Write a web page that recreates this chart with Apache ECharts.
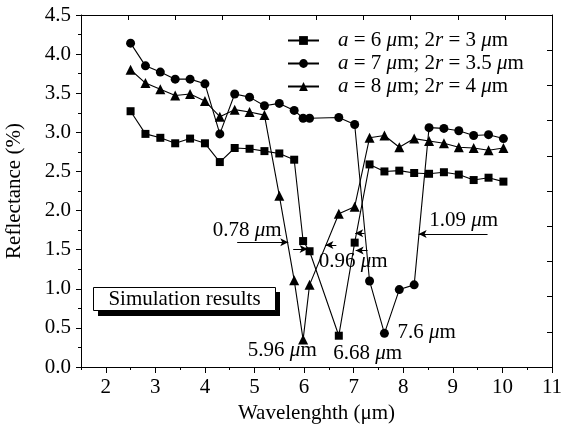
<!DOCTYPE html>
<html><head><meta charset="utf-8">
<script src="https://cdn.jsdelivr.net/npm/echarts@6/dist/echarts.min.js"></script>
<style>html,body{margin:0;padding:0;background:#fff}#c{width:561px;height:432px}</style>
</head><body><div id="c"></div>
<script>
const wavelength = [2.5,2.8,3.1,3.4,3.7,4.0,4.3,4.6,4.9,5.2,5.5,5.8,5.98,6.11,6.7,7.02,7.32,7.62,7.92,8.22,8.52,8.82,9.12,9.42,9.72,10.02];
const refA6 = [3.27,2.98,2.93,2.86,2.92,2.86,2.62,2.80,2.79,2.76,2.73,2.65,1.61,1.48,0.40,1.59,2.59,2.50,2.51,2.48,2.47,2.49,2.46,2.39,2.42,2.37];
const refA7 = [4.14,3.85,3.77,3.68,3.68,3.62,2.98,3.49,3.45,3.34,3.37,3.28,3.18,3.18,3.19,3.10,1.10,0.43,0.99,1.05,3.06,3.05,3.02,2.96,2.97,2.92];
const refA8 = [3.80,3.63,3.55,3.47,3.49,3.40,3.20,3.29,3.26,3.22,2.19,1.11,0.35,1.05,1.96,2.05,2.93,2.96,2.81,2.92,2.89,2.86,2.81,2.80,2.77,2.80];
const aVals = ['6','7','8'];
const rVals = ['3','3.5','4'];
const seriesNames = ['a6','a7','a8'];
const xTickLabels = [2,3,4,5,6,7,8,9,10,11];
const xMinorTicks = [1.5,2.5,3.5,4.5,5.5,6.5,7.5,8.5,9.5,10.5];
// annotation texts [x, y, number]
const annoTexts = [[4.85,1.75,'0.78'],[6.99,1.345,'0.96'],[9.22,1.876,'1.09'],[5.56,0.21,'5.96'],[7.28,0.17,'6.68'],[8.47,0.437,'7.6']];
// arrows [x1, x2(tip), y]
const annoArrows = [[4.65,5.68,1.595],[5.78,6.07,1.51],[6.65,6.43,1.56],[7.22,7.03,1.71],[7.28,7.04,1.49],[9.70,8.31,1.70]];

const FF = 'Liberation Serif';
const chart = echarts.init(document.getElementById('c'), null, {renderer:'canvas'});
const mk = (vals) => wavelength.map((x,i)=>[x, vals[i]]);
const lineStyle = {color:'#000', width:1.1};
const baseSeries = (name, data, symbol, size) => ({
  name, type:'line', data, symbol, symbolSize:size, showAllSymbol:true,
  xAxisIndex:0, yAxisIndex:0,
  lineStyle, itemStyle:{color:'#000', borderWidth:0}, animation:false, z:3
});
const arrowSeries = {
  type:'line', data:[], xAxisIndex:0, yAxisIndex:0, animation:false, silent:true,
  markLine:{
    silent:true, animation:false, symbol:['none','arrow'], symbolSize:[6,8],
    label:{show:false},
    lineStyle:{color:'#000', width:1, type:'solid'},
    data: annoArrows.map(a=>[{coord:[a[0],a[2]]},{coord:[a[1],a[2]]}])
  }
};
const axLine = {show:true, onZero:false, lineStyle:{color:'#000', width:1}};
chart.setOption({
  animation:false,
  backgroundColor:'#fff',
  grid:{left:81, right:9, top:15, bottom:65, containLabel:false, outerBoundsMode:'none'},
  legend:{
    orient:'vertical', left:282, top:25, itemWidth:31, itemHeight:11, itemGap:2,
    data:seriesNames,
    formatter:(name)=>{const i=seriesNames.indexOf(name); return `{sp|}{it|a}{n| = ${aVals[i]} }{it|μ}{n|m; 2}{it|r}{n| = ${rVals[i]} }{it|μ}{n|m}`;},
    textStyle:{fontFamily:FF, fontSize:21, color:'#000',
      rich:{sp:{width:14}, it:{fontStyle:'italic', fontFamily:FF, fontSize:21, color:'#000'}, n:{fontFamily:FF, fontSize:21, color:'#000'}}}
  },
  xAxis:[
    {type:'value', min:1.5, max:11, position:'bottom',
     name:'Wavelenghth (μm)', nameLocation:'middle', nameGap:36,
     nameTextStyle:{fontFamily:FF, fontSize:21, color:'#000'},
     axisLine:axLine, splitLine:{show:false},
     axisTick:{show:true, inside:false, length:6, customValues:xTickLabels, lineStyle:{color:'#000'}},
     axisLabel:{show:true, customValues:xTickLabels, margin:10, fontFamily:FF, fontSize:21, color:'#000'}},
    {type:'value', min:1.5, max:11, position:'bottom',
     axisLine:{show:false, onZero:false}, splitLine:{show:false},
     axisTick:{show:true, inside:false, length:3, customValues:xMinorTicks, lineStyle:{color:'#000'}},
     axisLabel:{show:false, customValues:xMinorTicks}},
    {type:'value', min:0, max:10, interval:1, position:'top',
     axisLine:axLine, splitLine:{show:false},
     axisTick:{show:true, inside:true, length:5, lineStyle:{color:'#000'}},
     axisLabel:{show:false}}
  ],
  yAxis:[
    {type:'value', min:0, max:4.5, interval:0.5, position:'left',
     name:'Reflectance (%)', nameLocation:'middle', nameGap:56, nameRotate:90,
     nameTextStyle:{fontFamily:FF, fontSize:21, color:'#000'},
     axisLine:axLine, splitLine:{show:false},
     axisTick:{show:true, inside:false, length:5, lineStyle:{color:'#000'}},
     minorTick:{show:true, splitNumber:2, length:3, lineStyle:{color:'#000'}},
     axisLabel:{margin:10, fontFamily:FF, fontSize:21, color:'#000', formatter:(v)=>v.toFixed(1)}},
    {type:'value', min:0, max:10, interval:1, position:'right',
     axisLine:axLine, splitLine:{show:false},
     axisTick:{show:true, inside:true, length:5, lineStyle:{color:'#000'}},
     axisLabel:{show:false}}
  ],
  series:[
    baseSeries('a6', mk(refA6), 'rect', 8),
    baseSeries('a7', mk(refA7), 'circle', 9),
    baseSeries('a8', mk(refA8), 'triangle', 10),
    arrowSeries
  ]
});

function drawGraphics(){
  const g = [];
  annoTexts.forEach(t=>{
    const p = chart.convertToPixel({xAxisIndex:0, yAxisIndex:0},[t[0],t[1]]);
    g.push({type:'text', x:p[0], y:p[1], z:10,
      style:{text:`{n|${t[2]} }{it|μ}{n|m}`, align:'center', verticalAlign:'middle',
        rich:{n:{fontFamily:FF, fontSize:21, fill:'#000'}, it:{fontFamily:FF, fontStyle:'italic', fontSize:21, fill:'#000'}}}});
  });
  // Simulation results label box with shadow
  g.push({type:'rect', shape:{x:98, y:292, width:182, height:24}, style:{fill:'#000'}, z:10});
  g.push({type:'rect', shape:{x:93.5, y:287.5, width:182, height:23}, style:{fill:'#fff', stroke:'#000', lineWidth:1}, z:11});
  g.push({type:'text', x:184.5, y:299, z:12, style:{text:'Simulation results', align:'center', verticalAlign:'middle', fontFamily:FF, fontSize:21, fill:'#000'}});
  chart.setOption({graphic:g});
}
drawGraphics();
</script>
</body></html>
